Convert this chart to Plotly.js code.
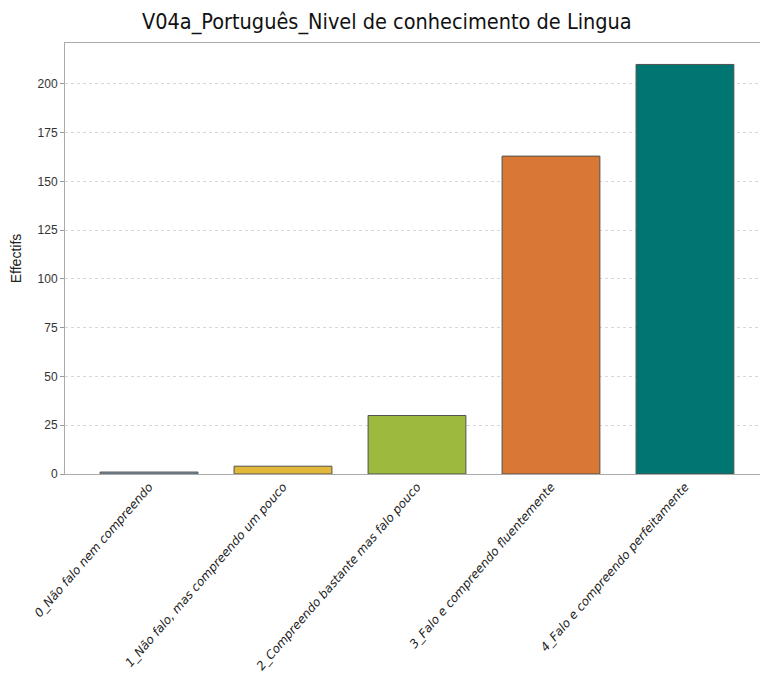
<!DOCTYPE html>
<html><head><meta charset="utf-8">
<script src="https://cdn.plot.ly/plotly-3.0.1.min.js"></script>
<style>html,body{margin:0;padding:0;background:#fff;}#chart{width:760px;height:684px;}</style>
</head><body><div id="chart"></div>
<script>
const categories = [
  "0_Não falo nem compreendo",
  "1_Não falo, mas compreendo um pouco",
  "2_Compreendo bastante mas falo pouco",
  "3_Falo e compreendo fluentemente",
  "4_Falo e compreendo perfeitamente"
];
const counts = [1, 4, 30, 163, 210];
const barColors = ["#88a0b2", "#e2b83b", "#9cba3d", "#d97835", "#007672"];
const yTicks = [0, 25, 50, 75, 100, 125, 150, 175, 200];

const trace = {
  type: "bar",
  x: categories,
  y: counts,
  width: 0.73,
  marker: {color: barColors, line: {color: "#505050", width: 1}},
  hoverinfo: "x+y"
};
const layout = {
  width: 760, height: 684,
  margin: {l: 65, r: 0, t: 43, b: 210},
  paper_bgcolor: "#fff", plot_bgcolor: "#fff",
  title: {text: "V04a_Português_Nivel de conhecimento de Lingua",
          font: {family: "DejaVu Sans Condensed, DejaVu Sans", size: 21.5, color: "#111"},
          x: 0.509, xanchor: "center", y: 0.968, yanchor: "middle"},
  xaxis: {
    type: "category",
    range: [-0.627, 4.56],
    tickangle: -49,
    tickfont: {family: "DejaVu Sans", size: 12, color: "#222", style: "italic"},
    showline: true, linecolor: "#aaa", linewidth: 1, mirror: true,
    ticks: "", ticklen: 6, showgrid: false
  },
  yaxis: {
    range: [0, 221],
    tickvals: yTicks,
    ticks: "outside", ticklen: 4, tickcolor: "#999",
    tickfont: {family: "Liberation Sans, Arial", size: 12, color: "#333"},
    showline: true, linecolor: "#aaa", linewidth: 1,
    showgrid: true, gridcolor: "#d8d8d8", griddash: "dot", gridwidth: 1,
    zeroline: false,
    title: {text: "Effectifs", font: {family: "Liberation Sans, Arial", size: 14, color: "#222"}, standoff: 12}
  },
  showlegend: false
};
Plotly.newPlot("chart", [trace], layout, {displayModeBar: false});
</script></body></html>
